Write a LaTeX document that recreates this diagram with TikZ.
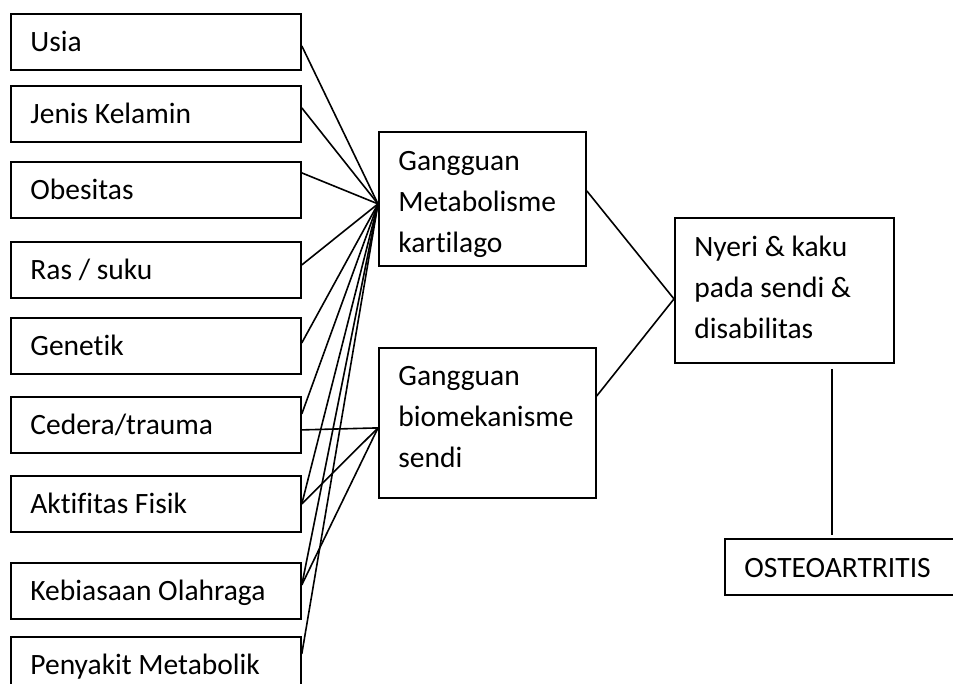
\documentclass[tikz,border=0pt]{standalone}
\usepackage{fontspec}
\setmainfont{Carlito}[Ligatures=CommonOff]
\begin{document}
\begin{tikzpicture}[x=1pt,y=-1pt,
  box/.style={draw, line width=1.8pt, inner xsep=19.5pt, inner ysep=0pt, align=flush left, anchor=north west, font=\fontsize{29.5}{41}\selectfont},
  lbox/.style={box, text width=251pt, text height=38pt, text depth=18pt},
  link/.style={line width=1.6pt}]
\path[use as bounding box, clip] (0,0) rectangle (953,684);
% left boxes
\node[lbox] (usia)  at (10,13)  {Usia};
\node[lbox] (jenis) at (10,85)  {Jenis Kelamin};
\node[lbox] (obes)  at (10,161) {Obesitas};
\node[lbox] (ras)   at (10,241) {Ras / suku};
\node[lbox] (gen)   at (10,317) {Genetik};
\node[lbox] (ced)   at (10,396) {Cedera/trauma};
\node[lbox] (akt)   at (10,475) {Aktifitas Fisik};
\node[lbox] (keb)   at (10,562) {Kebiasaan Olahraga};
\node[lbox] (peny)  at (10,636) {Penyakit Metabolik};
% middle boxes
\node[box, text width=168pt, text height=39pt, text depth=95pt] (meta) at (378,131) {Gangguan\\Metabolisme\\kartilago};
\node[box, text width=178pt, text height=38pt, text depth=112pt] (bio) at (378,347) {Gangguan\\biomekanisme\\sendi};
% right boxes
\node[box, text width=180pt, text height=39pt, text depth=106pt] (nyeri) at (674,217) {Nyeri \& kaku\\pada sendi \&\\disabilitas};
\node[box, text width=235pt, text height=39pt, text depth=17pt] (osteo) at (724,538) {OSTEOARTRITIS};
% convergence points
\coordinate (mIn) at ([yshift=-5pt]meta.west);
\coordinate (bIn) at ([yshift=-5pt]bio.west);
% connectors to metabolism box
\draw[link] ([yshift=-4pt]usia.east) -- (mIn);
\draw[link] ([yshift=6pt]jenis.east) -- (mIn);
\draw[link] ([yshift=17pt]obes.east) -- (mIn);
\draw[link] ([yshift=5pt]ras.east) -- (mIn);
\draw[link] ([yshift=3pt]gen.east) -- (mIn);
\draw[link] ([yshift=11pt]ced.east) -- (mIn);
\draw[link] (akt.east) -- (mIn);
\draw[link] ([yshift=6pt]keb.east) -- (mIn);
\draw[link] ([yshift=11pt]peny.east) -- (mIn);
% connectors to biomechanics box
\draw[link] ([yshift=-5pt]ced.east) -- (bIn);
\draw[link] (akt.east) -- (bIn);
\draw[link] ([yshift=6pt]keb.east) -- (bIn);
% to result
\draw[link] ([yshift=8pt]meta.east) -- ([yshift=-8.5pt]nyeri.west);
\draw[link] ([yshift=27pt]bio.east) -- ([yshift=-8.5pt]nyeri.west);
\coordinate (vt) at ([xshift=47.5pt,yshift=-5pt]nyeri.south);
\coordinate (vb) at (vt |- osteo.north);
\draw[link] (vt) -- ([yshift=3pt]vb);
\end{tikzpicture}
\end{document}
